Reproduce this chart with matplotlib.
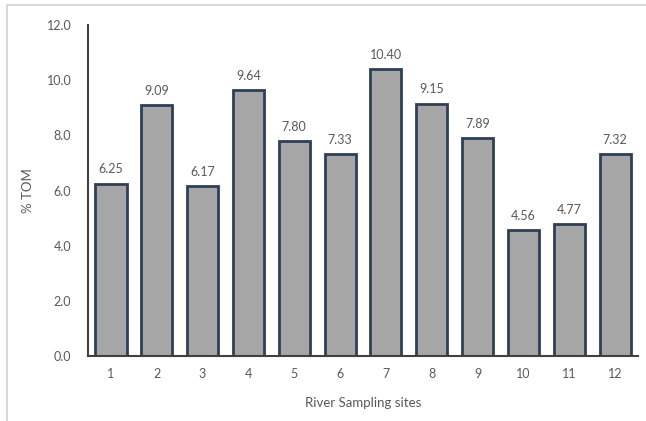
import matplotlib.pyplot as plt
from matplotlib.patches import Rectangle

sites = ['1', '2', '3', '4', '5', '6', '7', '8', '9', '10', '11', '12']
tom = [6.25, 9.09, 6.17, 9.64, 7.80, 7.33, 10.40, 9.15, 7.89, 4.56, 4.77, 7.32]

plt.rcParams['font.family'] = ['Lato', 'DejaVu Sans']
grey_text = '#595959'

fig = plt.figure(figsize=(6.46, 4.21), dpi=100)
fig.patches.append(Rectangle((7 / 646, -0.1), 1.2, 1 - 5 / 421 + 0.1,
                             transform=fig.transFigure, fill=False,
                             edgecolor='#d9d9d9', linewidth=1.5))
ax = fig.add_axes([88 / 646, 65 / 421, 550 / 646, 331 / 421])

x = range(len(sites))
bars = ax.bar(x, tom, width=0.68, color='#a6a6a6', edgecolor='#2e3f57', linewidth=2)
for b, v in zip(bars, tom):
    ax.text(b.get_x() + b.get_width() / 2, v + 0.3, '%.2f' % v,
            ha='center', va='bottom', fontsize=9, color=grey_text)

ax.set_xlim(-0.5, len(sites) - 0.5)
ax.set_ylim(0, 12)
ax.set_yticks([0, 2, 4, 6, 8, 10, 12])
ax.set_yticklabels(['%.1f' % t for t in [0, 2, 4, 6, 8, 10, 12]])
ax.set_xticks(list(x))
ax.set_xticklabels(sites)
ax.tick_params(length=0, labelsize=9, labelcolor=grey_text, pad=9)
ax.tick_params(axis='y', pad=12)
for s in ['top', 'right']:
    ax.spines[s].set_visible(False)
ax.spines['left'].set_color('#404040')
ax.spines['left'].set_linewidth(1.5)
ax.spines['bottom'].set_color('#404040')
ax.spines['bottom'].set_linewidth(1.5)

ax.set_xlabel('River Sampling sites', fontsize=9.5, color=grey_text, labelpad=12)
ax.set_ylabel('% TOM', fontsize=9.5, color=grey_text, labelpad=9)

fig.savefig('out.png', dpi=100)
